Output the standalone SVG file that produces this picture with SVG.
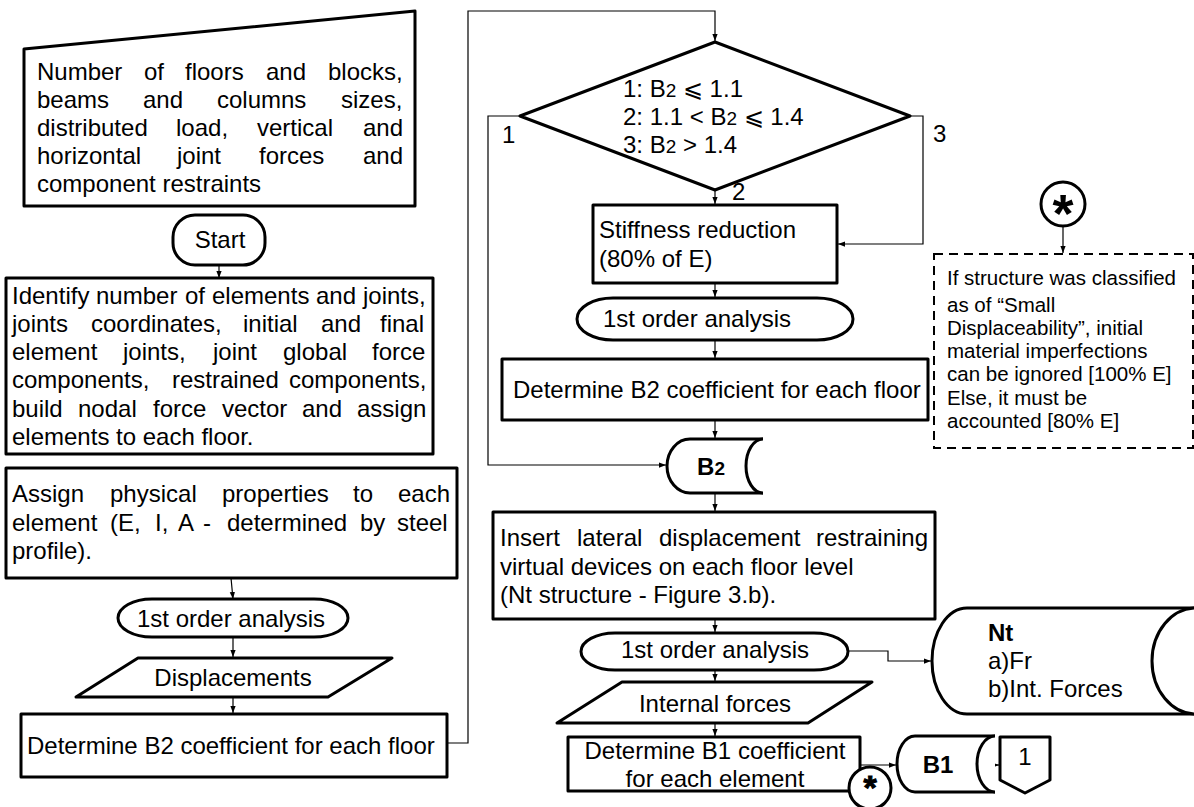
<svg xmlns="http://www.w3.org/2000/svg" width="1194" height="807" viewBox="0 0 1194 807">
<defs>
<style>
text{font-family:"Liberation Sans",Arial,sans-serif;font-size:24px;fill:#000}
.n{fill:#fff;stroke:#000;stroke-width:3;stroke-linejoin:round}
.c{fill:none;stroke:#000;stroke-width:1.2}
.b{font-weight:bold}
.s{font-size:19px}
.d{font-size:20.5px}
.m{text-anchor:middle}
.st{font-weight:bold;text-anchor:middle;stroke:#000;stroke-width:1}
</style>
<marker id="ah" viewBox="0 0 8 8" refX="8" refY="4" markerWidth="7" markerHeight="7" orient="auto" markerUnits="userSpaceOnUse"><path d="M0,1 L8,4 L0,7 z" fill="#000"/></marker>
</defs>
<rect width="1194" height="807" fill="#fff"/>

<g id="connectors">
<path class="c" d="M219,265 V278" marker-end="url(#ah)"/>
<path class="c" d="M231,578 L233,599" marker-end="url(#ah)"/>
<path class="c" d="M233,637 V657" marker-end="url(#ah)"/>
<path class="c" d="M233,697 V713" marker-end="url(#ah)"/>
<path class="c" d="M447,743 H468 V11 H715 V41" marker-end="url(#ah)"/>
<path class="c" d="M520,116 H488 V465 H666" marker-end="url(#ah)"/>
<path class="c" d="M910,116 H923 V244 H838" marker-end="url(#ah)"/>
<path class="c" d="M715,190 V204" marker-end="url(#ah)"/>
<path class="c" d="M715,283 V297" marker-end="url(#ah)"/>
<path class="c" d="M715,340 V358" marker-end="url(#ah)"/>
<path class="c" d="M715,420 V438" marker-end="url(#ah)"/>
<path class="c" d="M715,493 V511" marker-end="url(#ah)"/>
<path class="c" d="M715,619 V632" marker-end="url(#ah)"/>
<path class="c" d="M848,651 H888 V661 H931" marker-end="url(#ah)"/>
<path class="c" d="M715,670 V681" marker-end="url(#ah)"/>
<path class="c" d="M715,723 V736" marker-end="url(#ah)"/>
<path class="c" d="M860,765 H896" marker-end="url(#ah)"/>
<path class="c" d="M978,765 H999" marker-end="url(#ah)"/>
<path class="c" d="M1063,226 V253" marker-end="url(#ah)"/>
</g>
<g id="edge-labels">
<text x="502" y="143">1</text>
<text x="732" y="200">2</text>
<text x="933" y="142">3</text>
</g>

<g id="input">
<polygon class="n" points="24,49 415,11 415,206 24,206"/>
<text y="80"><tspan x="37">Number</tspan><tspan x="144">of</tspan><tspan x="185">floors</tspan><tspan x="266">and</tspan><tspan x="328">blocks,</tspan></text>
<text y="108"><tspan x="37">beams</tspan><tspan x="143">and</tspan><tspan x="217">columns</tspan><tspan x="341">sizes,</tspan></text>
<text y="136"><tspan x="37">distributed</tspan><tspan x="176">load,</tspan><tspan x="257">vertical</tspan><tspan x="363">and</tspan></text>
<text y="164"><tspan x="37">horizontal</tspan><tspan x="177">joint</tspan><tspan x="259">forces</tspan><tspan x="363">and</tspan></text>
<text x="37" y="192">component restraints</text>
</g>

<g id="start">
<rect class="n" x="173" y="215" width="92" height="50" rx="22" ry="22"/>
<text class="m" x="220" y="248">Start</text>
</g>

<g id="identify">
<rect class="n" x="6" y="278" width="427" height="176"/>
<text y="304"><tspan x="12">Identify</tspan><tspan x="96">number</tspan><tspan x="185">of</tspan><tspan x="212">elements</tspan><tspan x="316">and</tspan><tspan x="363">joints,</tspan></text>
<text y="332"><tspan x="12">joints</tspan><tspan x="91">coordinates,</tspan><tspan x="243">initial</tspan><tspan x="321">and</tspan><tspan x="380">final</tspan></text>
<text y="360"><tspan x="12">element</tspan><tspan x="123">joints,</tspan><tspan x="213">joint</tspan><tspan x="283">global</tspan><tspan x="372">force</tspan></text>
<text y="388"><tspan x="12">components,</tspan><tspan x="172">restrained</tspan><tspan x="289">components,</tspan></text>
<text y="417"><tspan x="12">build</tspan><tspan x="78">nodal</tspan><tspan x="153">force</tspan><tspan x="222">vector</tspan><tspan x="302">and</tspan><tspan x="357">assign</tspan></text>
<text x="12" y="445">elements to each floor.</text>
</g>

<g id="assign">
<rect class="n" x="6" y="468" width="451" height="110"/>
<text y="502"><tspan x="12">Assign</tspan><tspan x="110">physical</tspan><tspan x="222">properties</tspan><tspan x="353">to</tspan><tspan x="398">each</tspan></text>
<text y="531"><tspan x="12">element</tspan><tspan x="110">(E,</tspan><tspan x="155">I,</tspan><tspan x="178">A</tspan><tspan x="203">-</tspan><tspan x="227">determined</tspan><tspan x="360">by</tspan><tspan x="397">steel</tspan></text>
<text x="12" y="559">profile).</text>
</g>

<g id="analysis1">
<rect class="n" x="118" y="599" width="230" height="38" rx="34" ry="19"/>
<text class="m" x="231" y="627">1st order analysis</text>
</g>

<g id="displacements">
<polygon class="n" points="138,658 392,658 328,697 76,697"/>
<text class="m" x="233" y="686">Displacements</text>
</g>

<g id="b2-left">
<rect class="n" x="21" y="714" width="426" height="63"/>
<text x="27" y="754">Determine B2 coefficient for each floor</text>
</g>

<g id="decision">
<polygon class="n" points="715,42 910,116 715,190 520,116" stroke-width="3.5"/>
<text x="623" y="97">1: B<tspan class="s">2</tspan> ⩽ 1.1</text>
<text x="623" y="125">2: 1.1 &lt; B<tspan class="s">2</tspan> ⩽ 1.4</text>
<text x="623" y="153">3: B<tspan class="s">2</tspan> &gt; 1.4</text>
</g>

<g id="stiffness">
<rect class="n" x="593" y="205" width="244" height="78"/>
<text x="599" y="238">Stiffness reduction</text>
<text x="599" y="267">(80% of E)</text>
</g>

<g id="analysis2">
<rect class="n" x="577" y="298" width="276" height="42" rx="36" ry="21"/>
<text x="603" y="327">1st order analysis</text>
</g>

<g id="b2-right">
<rect class="n" x="502" y="359" width="426" height="61"/>
<text x="513" y="398">Determine B2 coefficient for each floor</text>
</g>

<g id="b2-store">
<path class="n" d="M763,439 H690 A23,27 0 0 0 690,493 H763"/>
<path class="n" d="M763,439 A17,27 0 0 0 763,493" fill="none"/>
<text class="b m" x="711" y="475">B<tspan class="s">2</tspan></text>
</g>

<g id="insert">
<rect class="n" x="493" y="512" width="442" height="107"/>
<text y="546"><tspan x="500">Insert</tspan><tspan x="577">lateral</tspan><tspan x="659">displacement</tspan><tspan x="816">restraining</tspan></text>
<text x="500" y="575">virtual devices on each floor level</text>
<text x="500" y="603">(Nt structure - Figure 3.b).</text>
</g>

<g id="analysis3">
<rect class="n" x="581" y="633" width="267" height="37" rx="34" ry="18.5"/>
<text class="m" x="715" y="658">1st order analysis</text>
</g>

<g id="nt-store">
<path class="n" d="M1200,608 H967 A35,53 0 0 0 967,714 H1200"/>
<path class="n" d="M1196,608 A44,53 0 0 0 1196,714" fill="none"/>
<text class="b" x="988" y="641">Nt</text>
<text x="988" y="669">a)Fr</text>
<text x="988" y="697">b)Int. Forces</text>
</g>

<g id="internal-forces">
<polygon class="n" points="622,682 872,682 808,723 557,723"/>
<text class="m" x="715" y="712">Internal forces</text>
</g>

<g id="b1-box">
<rect class="n" x="568" y="737" width="292" height="54"/>
<text class="m" x="715" y="759">Determine B1 coefficient</text>
<text class="m" x="715" y="787">for each element</text>
</g>

<g id="star-bottom">
<circle class="n" cx="870" cy="788" r="21"/>
<text class="st" x="870" y="799" style="font-size:34px">*</text>
</g>

<g id="b1-store">
<path class="n" d="M995,736 H915 A18,28 0 0 0 915,792 H995"/>
<path class="n" d="M995,736 A18,28 0 0 0 995,792" fill="none"/>
<text class="b m" x="938" y="773">B1</text>
</g>

<g id="offpage-1">
<polygon class="n" points="1000,737 1050,737 1050,780 1025,793 1000,780"/>
<text class="m" x="1025" y="765">1</text>
</g>

<g id="star-top">
<circle class="n" cx="1063" cy="204" r="22"/>
<text class="b m" x="1063" y="232" style="font-size:54px">*</text>
</g>

<g id="note">
<rect x="934" y="254" width="259" height="194" fill="#fff" stroke="#000" stroke-width="2" stroke-dasharray="9 6"/>
<text class="d" x="947" y="285">If structure was classified</text>
<text class="d" x="947" y="312">as of “Small</text>
<text class="d" x="947" y="335">Displaceability”, initial</text>
<text class="d" x="947" y="358">material imperfections</text>
<text class="d" x="947" y="381">can be ignored [100% E]</text>
<text class="d" x="947" y="405">Else, it must be</text>
<text class="d" x="947" y="428">accounted [80% E]</text>
</g>
</svg>
